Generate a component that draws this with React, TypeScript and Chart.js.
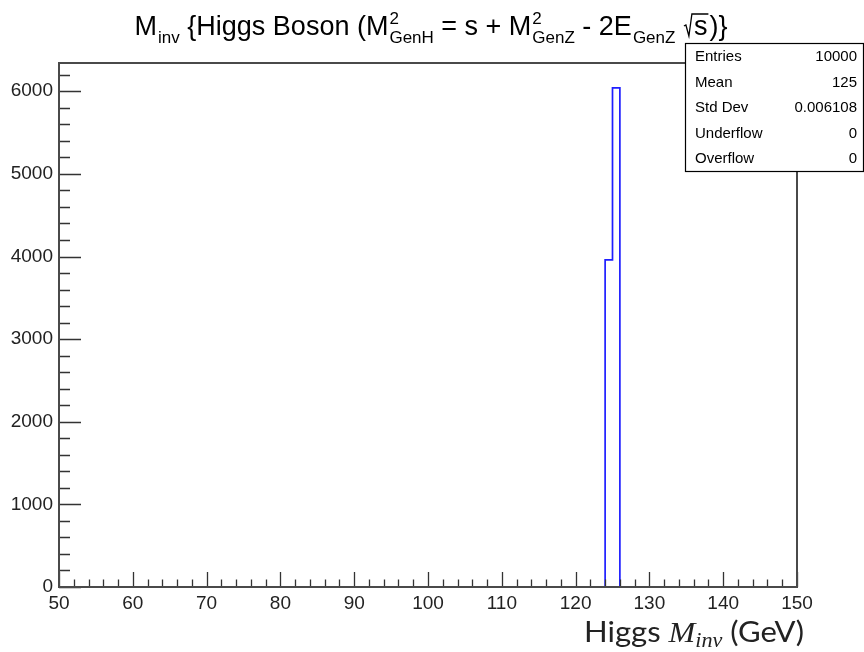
import React, { useEffect, useRef } from 'react';
import { Chart, registerables } from 'chart.js';

Chart.register(...registerables);

// ---- data ----
const binLowEdges = [124, 125];
const binCounts = [3960, 6040];
const binWidth = 1;
const xMin = 50;
const xMax = 150;
const yMin = 0;
const yMax = 6342;
const yTickValues = [0, 1000, 2000, 3000, 4000, 5000, 6000];
const xMajorStep = 10;
const xMinorStep = 2;
const yMajorStep = 1000;
const yMinorStep = 200;
const statsLabels = ['Entries', 'Mean', 'Std Dev', 'Underflow', 'Overflow'];
const statsValues = ['10000', '125', '0.006108', '0', '0'];

const SANS = '"Liberation Sans", Arial, Helvetica, sans-serif';

type Seg = { t?: string; sup?: string; sub?: string; sqrt?: string };
const titleSegs: Seg[] = [
  { t: 'M' },
  { sub: 'inv' },
  { t: ' {Higgs Boson (M' },
  { sup: '2', sub: 'GenH' },
  { t: ' = s + M' },
  { sup: '2', sub: 'GenZ' },
  { t: ' - 2E' },
  { sub: 'GenZ' },
  { t: ' ' },
  { sqrt: 's' },
  { t: ')}' },
];

function drawTitle(ctx: CanvasRenderingContext2D, cx: number, baseline: number) {
  const big = `27px ${SANS}`;
  const small = `17px ${SANS}`;
  const widthOf = (s: Seg) => {
    if (s.t !== undefined) { ctx.font = big; return ctx.measureText(s.t).width; }
    if (s.sqrt !== undefined) { ctx.font = big; return 11 + ctx.measureText(s.sqrt).width + 2; }
    ctx.font = small;
    const a = s.sup ? ctx.measureText(s.sup).width : 0;
    const b = s.sub ? ctx.measureText(s.sub).width : 0;
    return Math.max(a, b) + 1;
  };
  const total = titleSegs.reduce((acc, s) => acc + widthOf(s), 0);
  let x = cx - total / 2;
  ctx.save();
  ctx.fillStyle = '#000';
  ctx.strokeStyle = '#000';
  ctx.textBaseline = 'alphabetic';
  ctx.textAlign = 'left';
  for (const s of titleSegs) {
    const w = widthOf(s);
    if (s.t !== undefined) {
      ctx.font = big;
      ctx.fillText(s.t, x, baseline);
    } else if (s.sqrt !== undefined) {
      ctx.lineWidth = 1.3;
      ctx.beginPath();
      ctx.moveTo(x + 1, baseline - 9);
      ctx.lineTo(x + 3, baseline - 10);
      ctx.lineTo(x + 6, baseline + 1);
      ctx.lineTo(x + 9, baseline - 21);
      ctx.font = big;
      const sw = ctx.measureText(s.sqrt).width;
      ctx.lineTo(x + 11 + sw + 1, baseline - 21);
      ctx.stroke();
      ctx.fillText(s.sqrt, x + 11, baseline);
    } else {
      ctx.font = small;
      if (s.sup) ctx.fillText(s.sup, x + 1, baseline - 11);
      if (s.sub) ctx.fillText(s.sub, x + 1, baseline + 8);
    }
    x += w;
  }
  ctx.restore();
}

function drawAxisTitle(ctx: CanvasRenderingContext2D, right: number, baseline: number, targetW: number) {
  const parts = [
    { text: 'Higgs ', font: '28px Lato, "Open Sans", sans-serif', dy: 0 },
    { text: 'M', font: 'italic 29px "Liberation Serif", "DejaVu Serif", serif', dy: 0 },
    { text: 'inv', font: 'italic 20px "Liberation Serif", "DejaVu Serif", serif', dy: 5 },
    { text: ' (GeV)', font: '28px Lato, "Open Sans", sans-serif', dy: 0 },
  ];
  ctx.save();
  let total = 0;
  const ws = parts.map((p) => { ctx.font = p.font; const w = ctx.measureText(p.text).width; total += w; return w; });
  const f = targetW / total;
  ctx.translate(right - targetW, baseline);
  ctx.scale(f, 1);
  ctx.fillStyle = '#222';
  ctx.textBaseline = 'alphabetic';
  ctx.textAlign = 'left';
  let x = 0;
  parts.forEach((p, i) => { ctx.font = p.font; ctx.fillText(p.text, x, p.dy); x += ws[i]; });
  ctx.restore();
}

const rootPlugin = {
  id: 'rootDecor',
  afterDraw(chart: any) {
    const ctx: CanvasRenderingContext2D = chart.ctx;
    const xs = chart.scales.x;
    const ys = chart.scales.y;
    const a = chart.chartArea;
    ctx.save();
    // ticks (inward)
    ctx.strokeStyle = '#333';
    ctx.lineWidth = 1.3;
    ctx.beginPath();
    for (let v = xMin; v <= xMax + 1e-9; v += xMinorStep) {
      const px = Math.round(xs.getPixelForValue(v)) + 0.5;
      const major = Math.abs((v - xMin) % xMajorStep) < 1e-9;
      const len = major ? 15 : 7.5;
      ctx.moveTo(px, a.bottom);
      ctx.lineTo(px, a.bottom - len);
    }
    for (let v = yMin; v <= yMax + 1e-9; v += yMinorStep) {
      const py = Math.round(ys.getPixelForValue(v)) + 0.5;
      const major = Math.abs(v % yMajorStep) < 1e-9;
      const len = major ? 22 : 11;
      ctx.moveTo(a.left, py);
      ctx.lineTo(a.left + len, py);
    }
    ctx.stroke();
    // frame
    ctx.strokeStyle = '#4a4a4a';
    ctx.lineWidth = 2;
    ctx.strokeRect(a.left, a.top, a.right - a.left, a.bottom - a.top);
    ctx.restore();

    // title
    drawTitle(ctx, 431, 35);

    // stats box
    ctx.save();
    const bx = 685, by = 43, bw = 178, bh = 128;
    ctx.fillStyle = '#fff';
    ctx.fillRect(bx, by, bw, bh);
    ctx.strokeStyle = '#000';
    ctx.lineWidth = 1.2;
    ctx.strokeRect(bx + 0.5, by + 0.5, bw, bh);
    ctx.font = `15px ${SANS}`;
    ctx.fillStyle = '#000';
    ctx.textBaseline = 'middle';
    const rowH = bh / statsLabels.length;
    statsLabels.forEach((lab, i) => {
      const cy = by + rowH * (i + 0.5) + 1;
      ctx.textAlign = 'left';
      ctx.fillText(lab, bx + 10, cy);
      ctx.textAlign = 'right';
      ctx.fillText(statsValues[i], bx + bw - 6, cy);
    });
    ctx.restore();

    // x-axis title
    drawAxisTitle(ctx, 804, 642, 220);
  },
};

export default function App() {
  const ref = useRef<HTMLCanvasElement | null>(null);
  useEffect(() => {
    document.body.style.margin = '0';
    const canvas = ref.current;
    if (!canvas) return;
    const pts: { x: number; y: number }[] = [{ x: binLowEdges[0], y: 0 }];
    binLowEdges.forEach((lo, i) => pts.push({ x: lo, y: binCounts[i] }));
    pts.push({ x: binLowEdges[binLowEdges.length - 1] + binWidth, y: 0 });

    const chart = new Chart(canvas, {
      type: 'line',
      data: {
        datasets: [
          {
            data: pts,
            borderColor: '#1f1fff',
            borderWidth: 1.7,
            pointRadius: 0,
            stepped: 'before',
            fill: false,
          } as any,
        ],
      },
      options: {
        responsive: false,
        animation: false,
        events: [],
        layout: { padding: { top: 63, right: 67, left: 0, bottom: 0 } },
        plugins: { legend: { display: false }, tooltip: { enabled: false }, title: { display: false } },
        scales: {
          x: {
            type: 'linear',
            min: xMin,
            max: xMax,
            grid: { display: false, drawTicks: false },
            border: { display: false },
            ticks: {
              stepSize: xMajorStep,
              autoSkip: false,
              maxRotation: 0,
              padding: 5,
              color: '#222',
              font: { family: SANS, size: 19 },
            },
            afterFit: (s: any) => { s.height = 65; },
          },
          y: {
            type: 'linear',
            min: yMin,
            max: yMax,
            grid: { display: false, drawTicks: false },
            border: { display: false },
            afterBuildTicks: (s: any) => { s.ticks = yTickValues.map((v) => ({ value: v })); },
            ticks: {
              autoSkip: false,
              padding: 6,
              color: '#222',
              font: { family: SANS, size: 19 },
              callback: (v: any) => String(v),
            },
            afterFit: (s: any) => { s.width = 59; },
          },
        },
      },
      plugins: [rootPlugin],
    });
    return () => chart.destroy();
  }, []);
  return <canvas ref={ref} width={864} height={652} style={{ display: 'block' }} />;
}
